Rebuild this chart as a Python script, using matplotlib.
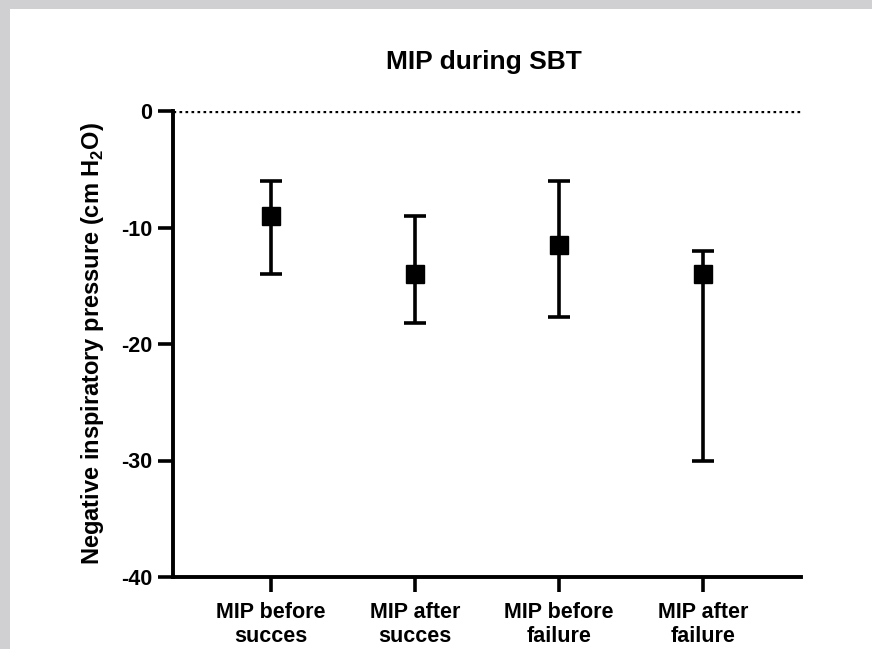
import matplotlib
matplotlib.use('agg')
import matplotlib.pyplot as plt
from matplotlib.patches import Rectangle
import numpy as np

# data
groups = ['MIP before\nsucces', 'MIP after\nsucces', 'MIP before\nfailure', 'MIP after\nfailure']
centers = [-9.0, -14.0, -11.5, -14.0]
upper = [-6.0, -9.0, -6.0, -12.0]
lower = [-14.0, -18.2, -17.7, -30.0]
y_ticks = [0, -10, -20, -30, -40]

plt.rcParams['font.family'] = ['Liberation Sans', 'DejaVu Sans']
plt.rcParams['font.weight'] = 'bold'
plt.rcParams['axes.unicode_minus'] = False
plt.rcParams['mathtext.fontset'] = 'custom'
plt.rcParams['mathtext.rm'] = 'Liberation Sans:bold'
plt.rcParams['mathtext.bf'] = 'Liberation Sans:bold'

W, H = 872, 649
fig = plt.figure(figsize=(W / 100, H / 100), dpi=100)
fig.patch.set_facecolor('#d0d0d2')
# white panel (grey strip on top and left like the screenshot)
fig.patches.append(Rectangle((10 / W, 0), 1, (H - 9) / H, transform=fig.transFigure,
                             facecolor='white', edgecolor='none', zorder=-10))

ax = fig.add_axes([173 / W, 1 - 577 / H, (801 - 173) / W, (577 - 111) / H])
ax.set_facecolor('none')
ax.set_zorder(5)

x = np.arange(len(groups))
c = np.array(centers)
yerr = [c - np.array(lower), np.array(upper) - c]
ax.axhline(0, color='black', ls=(0, (0.8, 1.0)), lw=2.4, zorder=1)
ax.errorbar(x, c, yerr=yerr, fmt='s', color='black', ms=13.5, elinewidth=2.6,
            capsize=8, capthick=2.6, zorder=3)

ax.set_xlim(-0.68, 3.68)
ax.set_ylim(-40, 0)
ax.set_yticks(y_ticks)
ax.set_xticks(x)
ax.set_xticklabels(groups, fontsize=15.5, fontweight='bold', linespacing=1.2)
ax.tick_params(axis='both', width=2.6, length=11, labelsize=15.5)
ax.tick_params(axis='x', pad=7)
ax.tick_params(axis='y', pad=4)
for lab in ax.get_yticklabels():
    lab.set_fontweight('bold')

for side in ['top', 'right']:
    ax.spines[side].set_visible(False)
for side in ['left', 'bottom']:
    ax.spines[side].set_linewidth(2.8)

ax.set_ylabel(r'Negative inspiratory pressure (cm H$_\mathbf{2}$O)', fontsize=17,
              fontweight='bold')
ax.yaxis.set_label_coords(-0.106, 0.5)

fig.text(484 / W, 1 - 62 / H, 'MIP during SBT', ha='center', va='center',
         fontsize=19, fontweight='bold', zorder=6)

fig.savefig('out.png', dpi=100, facecolor=fig.get_facecolor())
